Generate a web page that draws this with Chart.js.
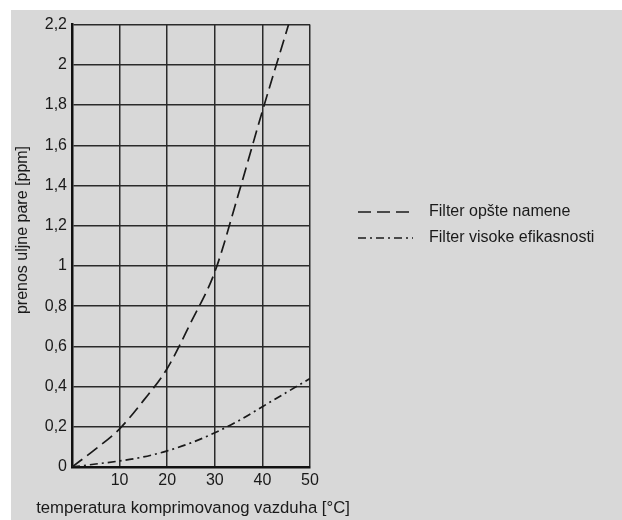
<!DOCTYPE html>
<html>
<head>
<meta charset="utf-8">
<script src="https://cdn.jsdelivr.net/npm/chart.js@4/dist/chart.umd.min.js"></script>
<style>
    html, body { margin: 0; padding: 0; background: #ffffff; }
    #wrap { position: absolute; left: 11px; top: 10px; width: 611px; height: 510px; background: #d8d8d8; }
</style>
</head>
<body>
<div id="wrap"><canvas id="chart" width="611" height="510"></canvas></div>
<script>
// =============================================================
// DATA
// =============================================================
const tempGeneral = [0, 5, 10, 15, 20, 25, 30, 35, 40, 45.5];
const oilGeneral  = [0, 0.09, 0.19, 0.33, 0.49, 0.72, 0.97, 1.36, 1.77, 2.2];

const tempHigh = [0, 5, 10, 15, 20, 25, 30, 35, 40, 45, 50];
const oilHigh  = [0, 0.015, 0.03, 0.05, 0.08, 0.12, 0.17, 0.23, 0.30, 0.37, 0.44];

const seriesNames = ["Filter opšte namene", "Filter visoke efikasnosti"];
const xTicks = [0, 10, 20, 30, 40, 50];
const yTickLabels = ["0", "0,2", "0,4", "0,6", "0,8", "1", "1,2", "1,4", "1,6", "1,8", "2", "2,2"];

const xTitle = "temperatura komprimovanog vazduha [°C]";
const yTitle = "prenos uljne pare [ppm]";

const FONT = "'Liberation Sans', Arial, sans-serif";
const INK = "#1a1a1a";
const dashGeneral = [13, 6];
const dashHigh = [8, 4, 2, 4];

// =============================================================
// LEGEND + AXIS TITLES (drawn free of the plot width)
// =============================================================
const sideTexts = {
    id: "sideTexts",
    afterDraw(chart) {
        const ctx = chart.ctx;
        const rows = [
            { label: seriesNames[0], dash: dashGeneral, y: 202 },
            { label: seriesNames[1], dash: dashHigh,    y: 228 }
        ];
        ctx.save();
        ctx.fillStyle = INK;
        ctx.strokeStyle = INK;
        ctx.textBaseline = "middle";

        // legend
        ctx.font = "16px " + FONT;
        rows.forEach(r => {
            ctx.lineWidth = 1.5;
            ctx.setLineDash(r.dash);
            ctx.beginPath();
            ctx.moveTo(347, r.y);
            ctx.lineTo(402, r.y);
            ctx.stroke();
            ctx.setLineDash([]);
            ctx.fillText(r.label, 418, r.y);
        });

        // x title
        ctx.font = "16.7px " + FONT;
        ctx.textAlign = "center";
        ctx.fillText(xTitle, 182, 498);

        // y title
        ctx.font = "16px " + FONT;
        ctx.translate(12, 220);
        ctx.rotate(-Math.PI / 2);
        ctx.fillText(yTitle, 0, 0);
        ctx.restore();
    }
};

// =============================================================
// CHART
// =============================================================
const toPoints = (xs, ys) => xs.map((x, i) => ({ x: x, y: ys[i] }));

new Chart(document.getElementById("chart"), {
    type: "scatter",
    data: {
        datasets: [
            {
                label: seriesNames[0],
                data: toPoints(tempGeneral, oilGeneral),
                showLine: true,
                borderColor: INK,
                borderWidth: 1.7,
                borderDash: dashGeneral,
                pointRadius: 0,
                cubicInterpolationMode: "monotone"
            },
            {
                label: seriesNames[1],
                data: toPoints(tempHigh, oilHigh),
                showLine: true,
                borderColor: INK,
                borderWidth: 1.7,
                borderDash: dashHigh,
                pointRadius: 0,
                cubicInterpolationMode: "monotone"
            }
        ]
    },
    options: {
        responsive: false,
        animation: false,
        layout: { padding: { left: 0, top: 14, right: 312, bottom: 0 } },
        plugins: {
            legend: { display: false },
            tooltip: { enabled: false }
        },
        scales: {
            x: {
                type: "linear",
                min: 0,
                max: 50,
                afterBuildTicks: s => { s.ticks = xTicks.map(v => ({ value: v })); },
                afterFit: s => { s.height = 53; },
                grid: { color: "#2a2a2a", lineWidth: 1.5, drawTicks: false },
                border: { color: "#111", width: 2.5 },
                ticks: {
                    padding: 4,
                    color: INK,
                    font: { family: FONT, size: 16 },
                    callback: v => (v === 0 ? "" : String(v))
                }
            },
            y: {
                min: 0,
                max: 2.2,
                afterBuildTicks: s => { s.ticks = yTickLabels.map((t, i) => ({ value: i * 0.2 })); },
                afterFit: s => { s.width = 61; },
                grid: { color: "#2a2a2a", lineWidth: 1.5, drawTicks: false },
                border: { color: "#111", width: 2.5 },
                ticks: {
                    padding: 5,
                    color: INK,
                    font: { family: FONT, size: 16 },
                    callback: (v, i) => yTickLabels[i]
                }
            }
        }
    },
    plugins: [sideTexts]
});
</script>
</body>
</html>
